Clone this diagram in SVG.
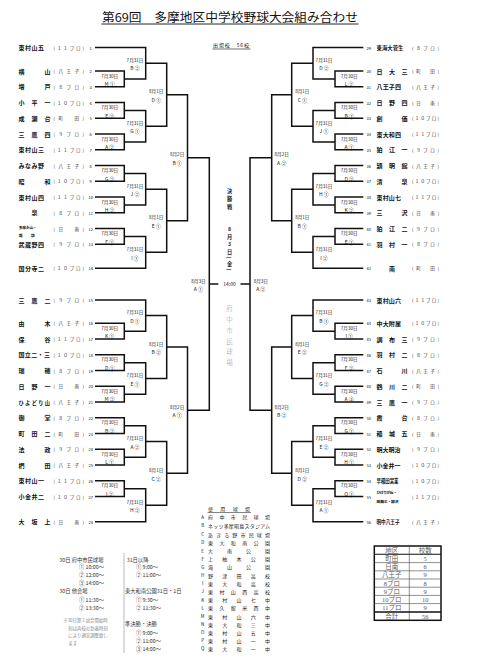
<svg xmlns="http://www.w3.org/2000/svg" width="480" height="671" viewBox="0 0 480 671">
<style>
text{font-family:"Noto Sans CJK JP","Noto Sans",sans-serif;dominant-baseline:central;fill:#111}
.nm{font-size:6px;font-weight:700}
.nm5{font-size:5.2px;font-weight:700}
.sm{font-size:3.8px;font-weight:700}
.pr{font-size:4.5px;fill:#333}
.no{font-size:4px;text-anchor:middle}
.lb{font-size:4.6px;text-anchor:middle;fill:#222}
.cd{font-size:5px}
.ln{fill:none;stroke:#111;stroke-width:1.5}
.ct{font-size:5.2px;font-weight:700;text-anchor:middle;fill:#222}
.fu{font-size:6.5px;font-weight:300;text-anchor:middle;fill:#9a9a9a}
.sc{font-size:5.3px;fill:#333}
.nt{font-size:4.4px;fill:#888}
.lg{font-size:5px;fill:#222}
.tb{font-family:"Liberation Serif","Noto Sans CJK JP",serif;font-size:6.5px;text-anchor:middle;fill:#5a5a5a}
</style>
<g id="title">
<text x="102" y="16.8" font-size="12" textLength="256" lengthAdjust="spacingAndGlyphs">第69回　多摩地区中学校野球大会組み合わせ</text>
<line x1="101.5" y1="24" x2="358.5" y2="24" stroke="#111" stroke-width="0.9"/>
<text x="213" y="44.7" font-size="5" textLength="36">出場校　56校</text>
<line x1="212.5" y1="49" x2="250.5" y2="49" stroke="#111" stroke-width="0.6"/>
</g>
<g id="connectors">
<path class="ln" d="M95 71H124.3V86.8H95M95 102.5H124.3V118.3H95M95 134H124.3V149.8H95M95 165.5H124.3V181.3H95M95 197H124.3V212.8H95M95 228.5H124.3V244.3H95M95 323.3H124.3V339.1H95M95 354.8H124.3V370.6H95M95 386.3H124.3V402.1H95M95 417.8H124.3V433.6H95M95 449.3H124.3V465.1H95M95 480.8H124.3V496.6H95"/>
<path class="ln" d="M95 47.6H145.7V78.9H124.3M124.3 110.4H145.7V141.9H124.3M124.3 173.4H145.7V204.9H124.3M124.3 236.4H145.7V268.3H95M95 300H145.7V331.2H124.3M124.3 362.7H145.7V394.2H124.3M124.3 425.7H145.7V457.2H124.3M124.3 488.7H145.7V521.7H95"/>
<path class="ln" d="M145.7 63.25H166.7V126.15H145.7M145.7 189.15H166.7V252.35H145.7M145.7 315.6H166.7V378.45H145.7M145.7 441.45H166.7V505.2H145.7"/>
<path class="ln" d="M166.7 94.7H187.5V220.75H166.7M166.7 347H187.5V473.3H166.7M187.5 157.7H209.3V410.15H187.5M209.3 283.9H218.3M240.5 283.9H250"/>
<path class="ln" d="M363.3 71H335V86.8H363.3M363.3 102.5H335V118.3H363.3M363.3 134H335V149.8H363.3M363.3 165.5H335V181.3H363.3M363.3 197H335V212.8H363.3M363.3 228.5H335V244.3H363.3M363.3 323.3H335V339.1H363.3M363.3 354.8H335V370.6H363.3M363.3 386.3H335V402.1H363.3M363.3 417.8H335V433.6H363.3M363.3 449.3H335V465.1H363.3M363.3 480.8H335V496.6H363.3"/>
<path class="ln" d="M363.3 47.6H313V78.9H335M335 110.4H313V141.9H335M335 173.4H313V204.9H335M335 236.4H313V268.3H363.3M363.3 300H313V331.2H335M335 362.7H313V394.2H335M335 425.7H313V457.2H335M335 488.7H313V521.7H363.3"/>
<path class="ln" d="M313 63.25H291.7V126.15H313M313 189.15H291.7V252.35H313M313 315.6H291.7V378.45H313M313 441.45H291.7V505.2H313"/>
<path class="ln" d="M291.7 94.7H271.7V220.75H291.7M291.7 347H271.7V473.3H291.7M271.7 157.7H250V410.15H271.7"/>
</g>
<g id="match-labels">
<text class="lb" x="109.7" y="75.6">7月30日<tspan class="cd" x="109.7" y="83.1">M ①</tspan></text>
<text class="lb" x="109.7" y="107.1">7月30日<tspan class="cd" x="109.7" y="114.6">E ②</tspan></text>
<text class="lb" x="109.7" y="138.6">7月30日<tspan class="cd" x="109.7" y="146.1">A ②</tspan></text>
<text class="lb" x="109.7" y="170.1">7月30日<tspan class="cd" x="109.7" y="177.6">G ②</tspan></text>
<text class="lb" x="109.7" y="201.6">7月30日<tspan class="cd" x="109.7" y="209.1">H ②</tspan></text>
<text class="lb" x="109.7" y="233.1">7月30日<tspan class="cd" x="109.7" y="240.6">F ①</tspan></text>
<text class="lb" x="109.7" y="327.9">7月30日<tspan class="cd" x="109.7" y="335.4">K ①</tspan></text>
<text class="lb" x="109.7" y="359.4">7月30日<tspan class="cd" x="109.7" y="366.9">D ①</tspan></text>
<text class="lb" x="109.7" y="390.9">7月30日<tspan class="cd" x="109.7" y="398.4">M ②</tspan></text>
<text class="lb" x="109.7" y="422.4">7月30日<tspan class="cd" x="109.7" y="429.9">B ②</tspan></text>
<text class="lb" x="109.7" y="453.9">7月30日<tspan class="cd" x="109.7" y="461.4">L ①</tspan></text>
<text class="lb" x="109.7" y="485.4">7月30日<tspan class="cd" x="109.7" y="492.9">I ②</tspan></text>
<text class="lb" x="135" y="59.95">7月31日<tspan class="cd" x="135" y="67.45">B ②</tspan></text>
<text class="lb" x="135" y="122.85">7月31日<tspan class="cd" x="135" y="130.35">G ①</tspan></text>
<text class="lb" x="135" y="185.85">7月31日<tspan class="cd" x="135" y="193.35">J ②</tspan></text>
<text class="lb" x="135" y="249.05">7月31日<tspan class="cd" x="135" y="256.55">I ①</tspan></text>
<text class="lb" x="135" y="312.3">7月31日<tspan class="cd" x="135" y="319.8">D ①</tspan></text>
<text class="lb" x="135" y="375.15">7月31日<tspan class="cd" x="135" y="382.65">E ①</tspan></text>
<text class="lb" x="135" y="438.15">7月31日<tspan class="cd" x="135" y="445.65">A ②</tspan></text>
<text class="lb" x="135" y="501.9">7月31日<tspan class="cd" x="135" y="509.4">H ②</tspan></text>
<text class="lb" x="156.2" y="91.4">8月1日<tspan class="cd" x="156.2" y="98.9">D ①</tspan></text>
<text class="lb" x="156.2" y="217.45">8月1日<tspan class="cd" x="156.2" y="224.95">E ①</tspan></text>
<text class="lb" x="156.2" y="343.7">8月1日<tspan class="cd" x="156.2" y="351.2">B ②</tspan></text>
<text class="lb" x="156.2" y="470">8月1日<tspan class="cd" x="156.2" y="477.5">C ②</tspan></text>
<text class="lb" x="177.1" y="154.4">8月2日<tspan class="cd" x="177.1" y="161.9">B ①</tspan></text>
<text class="lb" x="177.1" y="406.85">8月2日<tspan class="cd" x="177.1" y="414.35">A ①</tspan></text>
<text class="lb" x="198.4" y="280.6">8月3日<tspan class="cd" x="198.4" y="288.1">A ①</tspan></text>
<text class="lb" x="349.2" y="75.6">7月30日<tspan class="cd" x="349.2" y="83.1">L ②</tspan></text>
<text class="lb" x="349.2" y="107.1">7月30日<tspan class="cd" x="349.2" y="114.6">B ①</tspan></text>
<text class="lb" x="349.2" y="138.6">7月30日<tspan class="cd" x="349.2" y="146.1">A ①</tspan></text>
<text class="lb" x="349.2" y="170.1">7月30日<tspan class="cd" x="349.2" y="177.6">D ②</tspan></text>
<text class="lb" x="349.2" y="201.6">7月30日<tspan class="cd" x="349.2" y="209.1">K ②</tspan></text>
<text class="lb" x="349.2" y="233.1">7月30日<tspan class="cd" x="349.2" y="240.6">E ①</tspan></text>
<text class="lb" x="349.2" y="327.9">7月30日<tspan class="cd" x="349.2" y="335.4">I ①</tspan></text>
<text class="lb" x="349.2" y="359.4">7月30日<tspan class="cd" x="349.2" y="366.9">F ②</tspan></text>
<text class="lb" x="349.2" y="390.9">7月30日<tspan class="cd" x="349.2" y="398.4">A ③</tspan></text>
<text class="lb" x="349.2" y="422.4">7月30日<tspan class="cd" x="349.2" y="429.9">G ①</tspan></text>
<text class="lb" x="349.2" y="453.9">7月30日<tspan class="cd" x="349.2" y="461.4">H ①</tspan></text>
<text class="lb" x="349.2" y="485.4">7月30日<tspan class="cd" x="349.2" y="492.9">O ①</tspan></text>
<text class="lb" x="324" y="59.95">7月31日<tspan class="cd" x="324" y="67.45">D ②</tspan></text>
<text class="lb" x="324" y="122.85">7月31日<tspan class="cd" x="324" y="130.35">J ①</tspan></text>
<text class="lb" x="324" y="185.85">7月31日<tspan class="cd" x="324" y="193.35">H ①</tspan></text>
<text class="lb" x="324" y="249.05">7月31日<tspan class="cd" x="324" y="256.55">I ②</tspan></text>
<text class="lb" x="324" y="312.3">7月31日<tspan class="cd" x="324" y="319.8">B ①</tspan></text>
<text class="lb" x="324" y="375.15">7月31日<tspan class="cd" x="324" y="382.65">G ②</tspan></text>
<text class="lb" x="324" y="438.15">7月31日<tspan class="cd" x="324" y="445.65">E ②</tspan></text>
<text class="lb" x="324" y="501.9">7月31日<tspan class="cd" x="324" y="509.4">A ①</tspan></text>
<text class="lb" x="302.3" y="91.4">8月1日<tspan class="cd" x="302.3" y="98.9">C ①</tspan></text>
<text class="lb" x="302.3" y="217.45">8月1日<tspan class="cd" x="302.3" y="224.95">B ①</tspan></text>
<text class="lb" x="302.3" y="343.7">8月1日<tspan class="cd" x="302.3" y="351.2">E ②</tspan></text>
<text class="lb" x="302.3" y="470">8月1日<tspan class="cd" x="302.3" y="477.5">D ②</tspan></text>
<text class="lb" x="281.7" y="154.4">8月2日<tspan class="cd" x="281.7" y="161.9">A ②</tspan></text>
<text class="lb" x="281.7" y="406.85">8月2日<tspan class="cd" x="281.7" y="414.35">B ②</tspan></text>
<text class="lb" x="260.8" y="280.6">8月3日<tspan class="cd" x="260.8" y="288.1">A ②</tspan></text>
</g>
<g id="final">
<text class="ct" x="229.5" y="190" font-size="5.6">決</text><text class="ct" x="229.5" y="198.3" font-size="5.6">勝</text><text class="ct" x="229.5" y="206.6" font-size="5.6">戦</text>
<text class="ct" x="229.5" y="228.4">8</text><text class="ct" x="229.5" y="236.1">月</text><text class="ct" x="229.5" y="243.8">3</text><text class="ct" x="229.5" y="251.5">日</text>
<text class="ct" x="229.5" y="257.6" transform="rotate(90 229.5 257.6)">(</text><text class="ct" x="229.5" y="263.5">金</text><text class="ct" x="229.5" y="269.5" transform="rotate(90 229.5 269.5)">)</text>
<text x="229.5" y="283.9" font-size="5" text-anchor="middle" fill="#222">14:00</text>
<text class="fu" x="229.5" y="308.3">府</text><text class="fu" x="229.5" y="319.2">中</text><text class="fu" x="229.5" y="330">市</text><text class="fu" x="229.5" y="340.8">民</text><text class="fu" x="229.5" y="351.3">球</text><text class="fu" x="229.5" y="361.8">場</text>
</g>
<g id="team-1"><text class="nm" x="18.5" y="47.6" textLength="25.5">東村山五</text><text class="pr" x="53.5" y="47.6" textLength="30.5">(１１ブロ)</text><text class="no" x="90.7" y="47.6">1</text></g>
<g id="team-2"><text class="nm" x="18.5" y="71" textLength="32">横山</text><text class="pr" x="53.5" y="71" textLength="30.5">(八王子)</text><text class="no" x="90.7" y="71">2</text></g>
<g id="team-3"><text class="nm" x="18.5" y="86.8" textLength="32">増戸</text><text class="pr" x="53.5" y="86.8" textLength="30.5">(８ブロ)</text><text class="no" x="90.7" y="86.8">3</text></g>
<g id="team-4"><text class="nm" x="18.5" y="102.5" textLength="32">小平一</text><text class="pr" x="53.5" y="102.5" textLength="30.5">(１０ブロ)</text><text class="no" x="90.7" y="102.5">4</text></g>
<g id="team-5"><text class="nm" x="18.5" y="118.3" textLength="32">成瀬台</text><text class="pr" x="53.5" y="118.3" textLength="30.5">(町　田)</text><text class="no" x="90.7" y="118.3">5</text></g>
<g id="team-6"><text class="nm" x="18.5" y="134" textLength="32">三鷹四</text><text class="pr" x="53.5" y="134" textLength="30.5">(９ブロ)</text><text class="no" x="90.7" y="134">6</text></g>
<g id="team-7"><text class="nm" x="18.5" y="149.8" textLength="25.5">東村山三</text><text class="pr" x="53.5" y="149.8" textLength="30.5">(１１ブロ)</text><text class="no" x="90.7" y="149.8">7</text></g>
<g id="team-8"><text class="nm" x="18.5" y="165.5" textLength="25.5">みなみ野</text><text class="pr" x="53.5" y="165.5" textLength="30.5">(八王子)</text><text class="no" x="90.7" y="165.5">8</text></g>
<g id="team-9"><text class="nm" x="18.5" y="181.3" textLength="32">昭和</text><text class="pr" x="53.5" y="181.3" textLength="30.5">(１０ブロ)</text><text class="no" x="90.7" y="181.3">9</text></g>
<g id="team-10"><text class="nm" x="18.5" y="197" textLength="25.5">東村山四</text><text class="pr" x="53.5" y="197" textLength="30.5">(１１ブロ)</text><text class="no" x="90.7" y="197">10</text></g>
<g id="team-11"><text class="nm" x="34.5" y="212.8" text-anchor="middle">泉</text><text class="pr" x="53.5" y="212.8" textLength="30.5">(８ブロ)</text><text class="no" x="90.7" y="212.8">11</text></g>
<g id="team-12"><text class="sm" x="18.8" y="227.3" textLength="18">多摩永山・</text><text class="sm" x="18.8" y="235.7" textLength="16">諏訪</text><text class="pr" x="53.5" y="228.5" textLength="30.5">(日　南)</text><text class="no" x="90.7" y="228.5">12</text></g>
<g id="team-13"><text class="nm" x="18.5" y="244.3" textLength="25.5">武蔵野四</text><text class="pr" x="53.5" y="244.3" textLength="30.5">(９ブロ)</text><text class="no" x="90.7" y="244.3">13</text></g>
<g id="team-14"><text class="nm" x="18.5" y="268.3" textLength="25.5">国分寺二</text><text class="pr" x="53.5" y="268.3" textLength="30.5">(１０ブロ)</text><text class="no" x="90.7" y="268.3">14</text></g>
<g id="team-15"><text class="nm" x="18.5" y="300" textLength="32">三鷹二</text><text class="pr" x="53.5" y="300" textLength="30.5">(９ブロ)</text><text class="no" x="90.7" y="300">15</text></g>
<g id="team-16"><text class="nm" x="18.5" y="323.3" textLength="32">由木</text><text class="pr" x="53.5" y="323.3" textLength="30.5">(八王子)</text><text class="no" x="90.7" y="323.3">16</text></g>
<g id="team-17"><text class="nm" x="18.5" y="339.1" textLength="32">保谷</text><text class="pr" x="53.5" y="339.1" textLength="30.5">(１１ブロ)</text><text class="no" x="90.7" y="339.1">17</text></g>
<g id="team-18"><text class="nm" x="18.5" y="354.8" textLength="31.5">国立二・三</text><text class="pr" x="53.5" y="354.8" textLength="30.5">(１０ブロ)</text><text class="no" x="90.7" y="354.8">18</text></g>
<g id="team-19"><text class="nm" x="18.5" y="370.6" textLength="32">瑞穂</text><text class="pr" x="53.5" y="370.6" textLength="30.5">(８ブロ)</text><text class="no" x="90.7" y="370.6">19</text></g>
<g id="team-20"><text class="nm" x="18.5" y="386.3" textLength="32">日野一</text><text class="pr" x="53.5" y="386.3" textLength="30.5">(日　南)</text><text class="no" x="90.7" y="386.3">20</text></g>
<g id="team-21"><text class="nm5" x="18.5" y="402.1" textLength="31.5">ひよどり山</text><text class="pr" x="53.5" y="402.1" textLength="30.5">(八王子)</text><text class="no" x="90.7" y="402.1">21</text></g>
<g id="team-22"><text class="nm" x="18.5" y="417.8" textLength="32">御堂</text><text class="pr" x="53.5" y="417.8" textLength="30.5">(８ブロ)</text><text class="no" x="90.7" y="417.8">22</text></g>
<g id="team-23"><text class="nm" x="18.5" y="433.6" textLength="32">町田二</text><text class="pr" x="53.5" y="433.6" textLength="30.5">(町　田)</text><text class="no" x="90.7" y="433.6">23</text></g>
<g id="team-24"><text class="nm" x="18.5" y="449.3" textLength="32">法政</text><text class="pr" x="53.5" y="449.3" textLength="30.5">(９ブロ)</text><text class="no" x="90.7" y="449.3">24</text></g>
<g id="team-25"><text class="nm" x="18.5" y="465.1" textLength="32">椚田</text><text class="pr" x="53.5" y="465.1" textLength="30.5">(八王子)</text><text class="no" x="90.7" y="465.1">25</text></g>
<g id="team-26"><text class="nm" x="18.5" y="480.8" textLength="25.5">東村山一</text><text class="pr" x="53.5" y="480.8" textLength="30.5">(１１ブロ)</text><text class="no" x="90.7" y="480.8">26</text></g>
<g id="team-27"><text class="nm" x="18.5" y="496.6" textLength="25.5">小金井二</text><text class="pr" x="53.5" y="496.6" textLength="30.5">(１０ブロ)</text><text class="no" x="90.7" y="496.6">27</text></g>
<g id="team-28"><text class="nm" x="18.5" y="521.7" textLength="32">大坂上</text><text class="pr" x="53.5" y="521.7" textLength="30.5">(日　南)</text><text class="no" x="90.7" y="521.7">28</text></g>
<g id="team-29"><text class="no" x="368.7" y="47.6">29</text><text class="nm5" x="376.5" y="47.6" textLength="27" lengthAdjust="spacingAndGlyphs">東海大菅生</text><text class="pr" x="412" y="47.6" textLength="27">(８ブロ)</text></g>
<g id="team-30"><text class="no" x="368.7" y="71">30</text><text class="nm" x="376.5" y="71" textLength="31">日大三</text><text class="pr" x="412" y="71" textLength="27">(町　田)</text></g>
<g id="team-31"><text class="no" x="368.7" y="86.8">31</text><text class="nm" x="376.5" y="86.8" textLength="24.5">八王子四</text><text class="pr" x="412" y="86.8" textLength="27">(八王子)</text></g>
<g id="team-32"><text class="no" x="368.7" y="102.5">32</text><text class="nm" x="376.5" y="102.5" textLength="31">日野四</text><text class="pr" x="412" y="102.5" textLength="27">(日　南)</text></g>
<g id="team-33"><text class="no" x="368.7" y="118.3">33</text><text class="nm" x="376.5" y="118.3" textLength="31">創価</text><text class="pr" x="412" y="118.3" textLength="27">(１０ブロ)</text></g>
<g id="team-34"><text class="no" x="368.7" y="134">34</text><text class="nm" x="376.5" y="134" textLength="24.5">東大和四</text><text class="pr" x="412" y="134" textLength="27">(１１ブロ)</text></g>
<g id="team-35"><text class="no" x="368.7" y="149.8">35</text><text class="nm" x="376.5" y="149.8" textLength="31">狛江一</text><text class="pr" x="412" y="149.8" textLength="27">(９ブロ)</text></g>
<g id="team-36"><text class="no" x="368.7" y="165.5">36</text><text class="nm" x="376.5" y="165.5" textLength="31">穎明館</text><text class="pr" x="412" y="165.5" textLength="27">(八王子)</text></g>
<g id="team-37"><text class="no" x="368.7" y="181.3">37</text><text class="nm" x="376.5" y="181.3" textLength="31">清泉</text><text class="pr" x="412" y="181.3" textLength="27">(１０ブロ)</text></g>
<g id="team-38"><text class="no" x="368.7" y="197">38</text><text class="nm" x="376.5" y="197" textLength="24.5">東村山七</text><text class="pr" x="412" y="197" textLength="27">(１１ブロ)</text></g>
<g id="team-39"><text class="no" x="368.7" y="212.8">39</text><text class="nm" x="376.5" y="212.8" textLength="31">三沢</text><text class="pr" x="412" y="212.8" textLength="27">(日　南)</text></g>
<g id="team-40"><text class="no" x="368.7" y="228.5">40</text><text class="nm" x="376.5" y="228.5" textLength="31">狛江二</text><text class="pr" x="412" y="228.5" textLength="27">(９ブロ)</text></g>
<g id="team-41"><text class="no" x="368.7" y="244.3">41</text><text class="nm" x="376.5" y="244.3" textLength="31">羽村一</text><text class="pr" x="412" y="244.3" textLength="27">(８ブロ)</text></g>
<g id="team-42"><text class="no" x="368.7" y="268.3">42</text><text class="nm" x="392" y="268.3" text-anchor="middle">南</text><text class="pr" x="412" y="268.3" textLength="27">(町　田)</text></g>
<g id="team-43"><text class="no" x="368.7" y="300">43</text><text class="nm" x="376.5" y="300" textLength="24.5">東村山六</text><text class="pr" x="412" y="300" textLength="27">(１１ブロ)</text></g>
<g id="team-44"><text class="no" x="368.7" y="323.3">44</text><text class="nm" x="376.5" y="323.3" textLength="24.5">中大附属</text><text class="pr" x="412" y="323.3" textLength="27">(１０ブロ)</text></g>
<g id="team-45"><text class="no" x="368.7" y="339.1">45</text><text class="nm" x="376.5" y="339.1" textLength="31">調布三</text><text class="pr" x="412" y="339.1" textLength="27">(９ブロ)</text></g>
<g id="team-46"><text class="no" x="368.7" y="354.8">46</text><text class="nm" x="376.5" y="354.8" textLength="31">羽村二</text><text class="pr" x="412" y="354.8" textLength="27">(８ブロ)</text></g>
<g id="team-47"><text class="no" x="368.7" y="370.6">47</text><text class="nm" x="376.5" y="370.6" textLength="31">石川</text><text class="pr" x="412" y="370.6" textLength="27">(八王子)</text></g>
<g id="team-48"><text class="no" x="368.7" y="386.3">48</text><text class="nm" x="376.5" y="386.3" textLength="31">鶴川二</text><text class="pr" x="412" y="386.3" textLength="27">(町　田)</text></g>
<g id="team-49"><text class="no" x="368.7" y="402.1">49</text><text class="nm" x="376.5" y="402.1" textLength="31">三鷹一</text><text class="pr" x="412" y="402.1" textLength="27">(９ブロ)</text></g>
<g id="team-50"><text class="no" x="368.7" y="417.8">50</text><text class="nm" x="376.5" y="417.8" textLength="31">霞台</text><text class="pr" x="412" y="417.8" textLength="27">(８ブロ)</text></g>
<g id="team-51"><text class="no" x="368.7" y="433.6">51</text><text class="nm" x="376.5" y="433.6" textLength="31">稲城五</text><text class="pr" x="412" y="433.6" textLength="27">(日　南)</text></g>
<g id="team-52"><text class="no" x="368.7" y="449.3">52</text><text class="nm" x="376.5" y="449.3" textLength="24">明大明治</text><text class="pr" x="412" y="449.3" textLength="27">(９ブロ)</text></g>
<g id="team-53"><text class="no" x="368.7" y="465.1">53</text><text class="nm" x="376.5" y="465.1" textLength="24">小金井一</text><text class="pr" x="412" y="465.1" textLength="27">(１０ブロ)</text></g>
<g id="team-54"><text class="no" x="368.7" y="480.8">54</text><text class="nm5" x="376.5" y="480.8" textLength="22" lengthAdjust="spacingAndGlyphs">早稲田実業</text><text class="pr" x="412" y="480.8" textLength="27">(１０ブロ)</text></g>
<g id="team-55"><text class="no" x="368.7" y="496.6">55</text><text class="sm" x="376.5" y="492.6" textLength="20.5">ひばりが丘・</text><text class="sm" x="376.5" y="501.4" textLength="22">田無三・柳沢</text><text class="pr" x="412" y="496.6" textLength="27">(１１ブロ)</text></g>
<g id="team-56"><text class="no" x="368.7" y="521.7">56</text><text class="nm5" x="376.5" y="521.7" textLength="23" lengthAdjust="spacingAndGlyphs">明中八王子</text><text class="pr" x="412" y="521.7" textLength="27">(八王子)</text></g>
<g id="schedule">
<text class="sc" x="59.3" y="559.5">30日 府中市民球場</text>
<text class="sc" x="79" y="567">① 10:00～</text>
<text class="sc" x="79" y="574.8">② 12:00～</text>
<text class="sc" x="79" y="582.7">③ 14:00～</text>
<text class="sc" x="59.3" y="591">30日 他会場</text>
<text class="sc" x="79" y="599.6">① 11:30～</text>
<text class="sc" x="79" y="607.9">② 13:30～</text>
<text class="nt" x="63.3" y="620">※30日第１試合開始時</text>
<text class="nt" x="68.3" y="627.6">刻は両校の到着時刻</text>
<text class="nt" x="68.3" y="635.2">により適宜調整致し</text>
<text class="nt" x="68.3" y="642.8">ます</text>
<line x1="124" y1="553" x2="124" y2="653" stroke="#bbb" stroke-width="1"/>
<text class="sc" x="126.7" y="559.5">31日以降</text>
<text class="sc" x="136" y="567">① 9:00～</text>
<text class="sc" x="136" y="574.8">② 11:00～</text>
<text class="sc" x="125" y="591">東大和南公園31日・1日</text>
<text class="sc" x="136" y="599.6">① 9:30～</text>
<text class="sc" x="136" y="607.9">② 11:30～</text>
<text class="sc" x="125" y="624.3">準決勝・決勝</text>
<text class="sc" x="136" y="633">① 9:00～</text>
<text class="sc" x="136" y="641">② 11:00～</text>
<text class="sc" x="136" y="649">③ 14:00～</text>
</g>
<g id="venues">
<text class="lg" x="208" y="508.8" textLength="42">使用球場</text>
<line x1="207.5" y1="512.5" x2="251" y2="512.5" stroke="#333" stroke-width="0.6"/>
<g font-size="4.5" text-anchor="middle">
<text x="202.7" y="516.5" font-size="4.5">A</text><text x="202.7" y="525" font-size="4.5">B</text><text x="202.7" y="534" font-size="4.5">C</text><text x="202.7" y="542.3" font-size="4.5">D</text><text x="202.7" y="550.6" font-size="4.5">E</text><text x="202.7" y="558.8" font-size="4.5">F</text><text x="202.7" y="566.9" font-size="4.5">G</text><text x="202.7" y="575.1" font-size="4.5">H</text><text x="202.7" y="583.3" font-size="4.5">I</text><text x="202.7" y="591.4" font-size="4.5">J</text><text x="202.7" y="599.6" font-size="4.5">K</text><text x="202.7" y="607.8" font-size="4.5">L</text><text x="202.7" y="616" font-size="4.5">M</text><text x="202.7" y="624.1" font-size="4.5">N</text><text x="202.7" y="632.2" font-size="4.5">O</text><text x="202.7" y="640.3" font-size="4.5">P</text><text x="202.7" y="648.4" font-size="4.5">Q</text>
</g>
<text class="lg" x="208" y="516.5" textLength="62">府中市民球場</text>
<text class="lg" x="208" y="525" textLength="62">ネッツ多摩昭島スタジアム</text>
<text class="lg" x="208" y="534" textLength="62">あきる野市民球場</text>
<text class="lg" x="208" y="542.3" textLength="62">東大和南公園</text>
<text class="lg" x="208" y="550.6" textLength="62">大南公園</text>
<text class="lg" x="208" y="558.8" textLength="62">上柚木公園</text>
<text class="lg" x="208" y="566.9" textLength="62">滝山公園</text>
<text class="lg" x="208" y="575.1" textLength="62">野津田高校</text>
<text class="lg" x="208" y="583.3" textLength="62">東大和高校</text>
<text class="lg" x="208" y="591.4" textLength="62">東村山西高校</text>
<text class="lg" x="208" y="599.6" textLength="62">東村山七中</text>
<text class="lg" x="208" y="607.8" textLength="62">東久留米西中</text>
<text class="lg" x="208" y="616" textLength="62">東村山六中</text>
<text class="lg" x="208" y="624.1" textLength="62">東大和三中</text>
<text class="lg" x="208" y="632.2" textLength="62">東村山五中</text>
<text class="lg" x="208" y="640.3" textLength="62">東村山一中</text>
<text class="lg" x="208" y="648.4" textLength="62">東大和一中</text>
</g>
<g id="count-table">
<rect x="374.3" y="546" width="66.7" height="74.3" fill="none" stroke="#111" stroke-width="1.5"/>
<line x1="374.3" y1="554.3" x2="441" y2="554.3" stroke="#111" stroke-width="1.1"/>
<g stroke="#444" stroke-width="0.6">
<line x1="374.3" y1="562.6" x2="441" y2="562.6"/><line x1="374.3" y1="570.8" x2="441" y2="570.8"/><line x1="374.3" y1="579" x2="441" y2="579"/><line x1="374.3" y1="587.2" x2="441" y2="587.2"/><line x1="374.3" y1="595.4" x2="441" y2="595.4"/><line x1="374.3" y1="603.6" x2="441" y2="603.6"/>
<line x1="409.3" y1="546" x2="409.3" y2="620.3"/>
</g>
<line x1="374.3" y1="611.9" x2="441" y2="611.9" stroke="#111" stroke-width="1.5"/>
<text class="tb" x="391.8" y="550.2" font-size="5" fill="#888">地区</text><text class="tb" x="425.2" y="550.2" font-size="5" fill="#888">校数</text>
<text class="tb" x="391.8" y="558.4">町田</text><text class="tb" x="425.2" y="558.4">5</text>
<text class="tb" x="391.8" y="566.7">日南</text><text class="tb" x="425.2" y="566.7">6</text>
<text class="tb" x="391.8" y="574.9">八王子</text><text class="tb" x="425.2" y="574.9">9</text>
<text class="tb" x="391.8" y="583.1">8ブロ</text><text class="tb" x="425.2" y="583.1">8</text>
<text class="tb" x="391.8" y="591.3">9ブロ</text><text class="tb" x="425.2" y="591.3">9</text>
<text class="tb" x="391.8" y="599.5">10ブロ</text><text class="tb" x="425.2" y="599.5">10</text>
<text class="tb" x="391.8" y="607.7">11ブロ</text><text class="tb" x="425.2" y="607.7">9</text>
<text class="tb" x="391.8" y="616.1">合計</text><text class="tb" x="425.2" y="616.1">56</text>
</g>
</svg>
